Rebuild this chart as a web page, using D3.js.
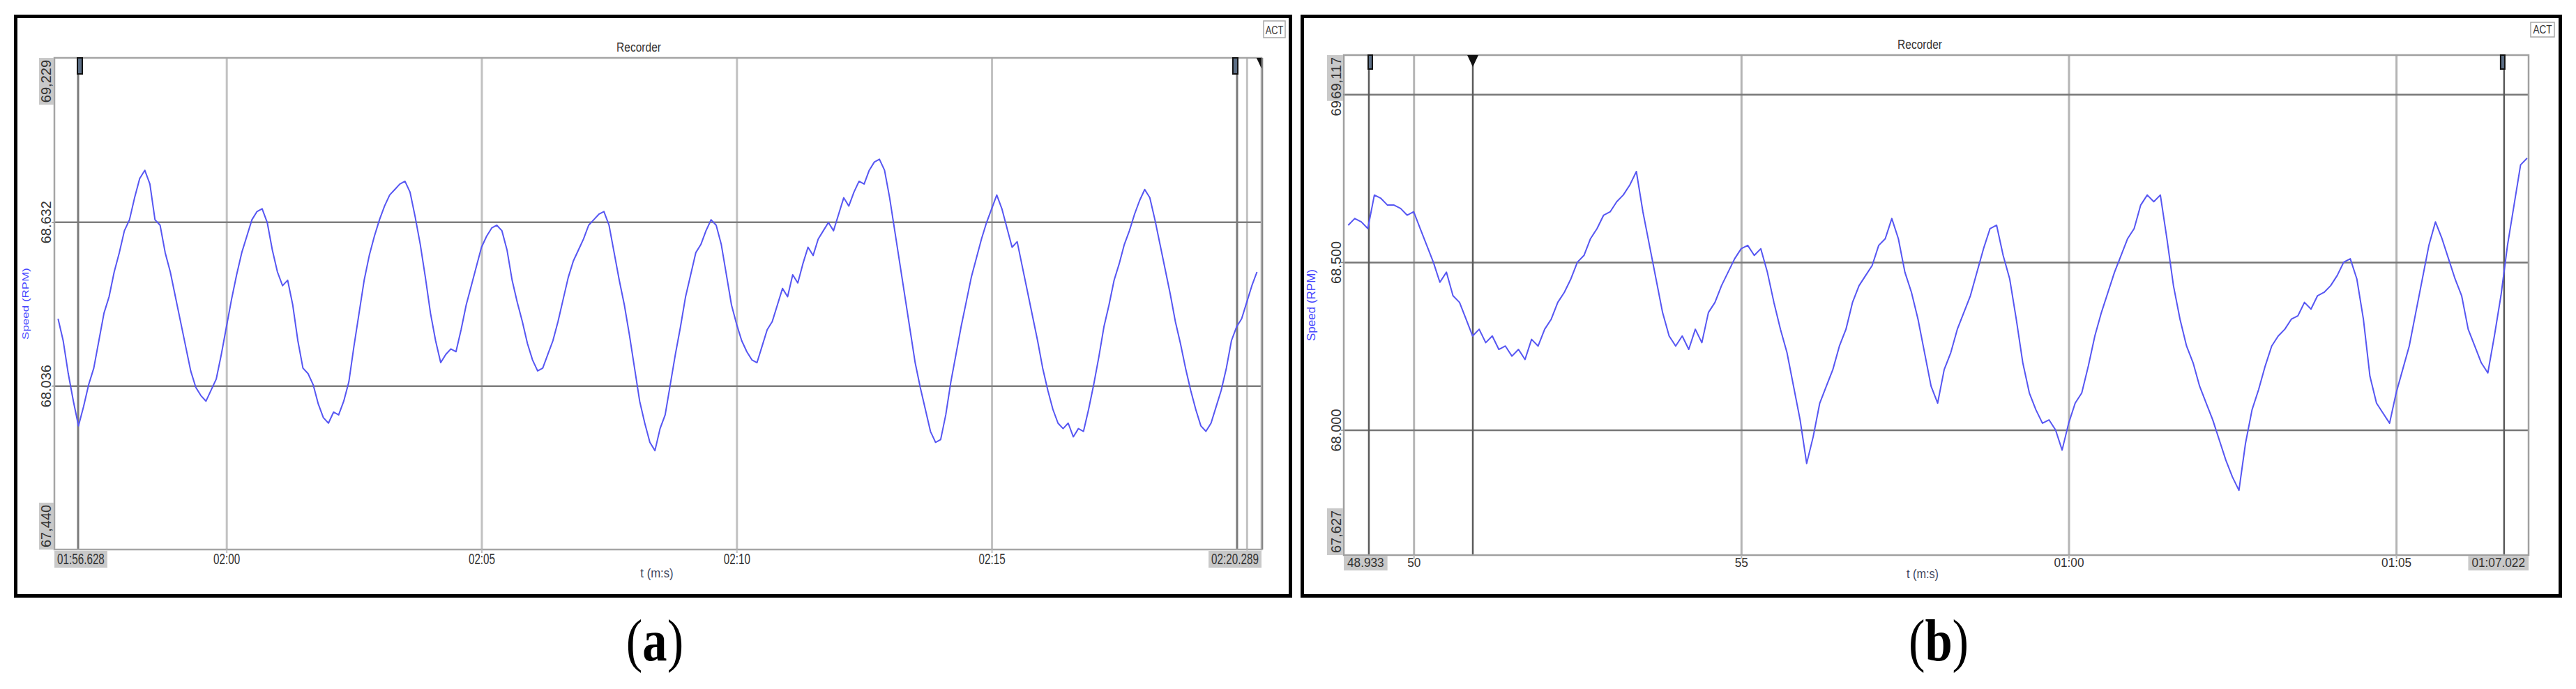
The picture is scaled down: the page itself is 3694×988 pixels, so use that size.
<!DOCTYPE html>
<html><head><meta charset="utf-8">
<script src="https://cdn.jsdelivr.net/npm/d3@7"></script>
<style>html,body{margin:0;padding:0;background:#fff;}svg{display:block;}</style>
</head><body>
<svg id="chart" width="3694" height="988"></svg>
<script>
// ---------------- DATA ----------------
// Panel (a): speed samples every 0.1 s starting at 116.7 s (01:56.7)
const timeStartA = 116.7, sampleStepA = 0.1;
const speedA = [
  68.28, 68.20, 68.08, 67.98, 67.89, 67.96, 68.04, 68.10, 68.20, 68.30,
  68.36, 68.45, 68.52, 68.60, 68.64, 68.72, 68.79, 68.82, 68.77, 68.64,
  68.62, 68.52, 68.45, 68.36, 68.27, 68.18, 68.09, 68.03, 68.00, 67.98,
  68.02, 68.06, 68.15, 68.25, 68.35, 68.44, 68.52, 68.58, 68.64, 68.67,
  68.68, 68.63, 68.53, 68.45, 68.40, 68.42, 68.33, 68.20, 68.10, 68.08,
  68.04, 67.97, 67.92, 67.90, 67.94, 67.93, 67.98, 68.05, 68.18, 68.30,
  68.42, 68.51, 68.58, 68.64, 68.69, 68.73, 68.75, 68.77, 68.78, 68.74,
  68.65, 68.55, 68.43, 68.30, 68.20, 68.12, 68.15, 68.17, 68.16, 68.24,
  68.33, 68.40, 68.47, 68.54, 68.58, 68.61, 68.62, 68.60, 68.53, 68.42,
  68.34, 68.27, 68.19, 68.13, 68.09, 68.10, 68.15, 68.20, 68.27, 68.35,
  68.43, 68.49, 68.53, 68.57, 68.62, 68.64, 68.66, 68.67, 68.62, 68.52,
  68.42, 68.33, 68.22, 68.10, 67.98, 67.90, 67.83, 67.80, 67.88, 67.93,
  68.04, 68.15, 68.25, 68.36, 68.44, 68.52, 68.55, 68.60, 68.64, 68.62,
  68.55, 68.44, 68.33, 68.26, 68.20, 68.16, 68.13, 68.12, 68.18, 68.24,
  68.27, 68.33, 68.39, 68.36, 68.44, 68.41, 68.48, 68.54, 68.51, 68.57,
  68.60, 68.63, 68.60, 68.66, 68.72, 68.69, 68.74, 68.78, 68.77, 68.82,
  68.85, 68.86, 68.82, 68.72, 68.60, 68.48, 68.36, 68.24, 68.12, 68.03,
  67.95, 67.87, 67.83, 67.84, 67.93, 68.05, 68.15, 68.25, 68.34, 68.43,
  68.50, 68.57, 68.63, 68.68, 68.73, 68.68, 68.61, 68.54, 68.56, 68.47,
  68.38, 68.29, 68.20, 68.10, 68.02, 67.95, 67.90, 67.88, 67.90, 67.85,
  67.88, 67.87, 67.95, 68.04, 68.14, 68.25, 68.33, 68.42, 68.48, 68.55,
  68.60, 68.66, 68.71, 68.75, 68.72, 68.64, 68.55, 68.46, 68.37, 68.27,
  68.19, 68.10, 68.02, 67.95, 67.89, 67.87, 67.90, 67.96, 68.02, 68.10,
  68.20, 68.25, 68.28, 68.34, 68.40, 68.45
];
const timeDomainA = [116.628, 140.289];
const speedDomainA = [67.440, 69.229];
const gridTimeA = [120, 125, 130, 135, 140];
const gridTimeLabelsA = ["02:00", "02:05", "02:10", "02:15", ""];
const gridSpeedA = [68.036, 68.632];
const gridSpeedLabelsA = ["68.036", "68.632"];
const endTimeLabelsA = ["01:56.628", "02:20.289"];
const endSpeedLabelsA = ["67,440", "69,229"];
const rectCursorsA = [117.093, 139.81];
const triCursorsA = [140.30];

// Panel (b): speed samples every 0.1 s starting at 49.0 s
const timeStartB = 49.0, sampleStepB = 0.1;
const speedB = [
  68.61, 68.63, 68.62, 68.60, 68.70, 68.69, 68.67, 68.67, 68.66, 68.64,
  68.65, 68.60, 68.55, 68.50, 68.44, 68.47, 68.40, 68.38, 68.33, 68.28,
  68.30, 68.26, 68.28, 68.24, 68.25, 68.22, 68.24, 68.21, 68.27, 68.25,
  68.30, 68.33, 68.38, 68.41, 68.45, 68.50, 68.52, 68.57, 68.60, 68.64,
  68.65, 68.68, 68.70, 68.73, 68.77, 68.65, 68.55, 68.45, 68.35, 68.28,
  68.25, 68.28, 68.24, 68.30, 68.26, 68.35, 68.38, 68.43, 68.47, 68.51,
  68.54, 68.55, 68.52, 68.54, 68.47, 68.38, 68.30, 68.23, 68.13, 68.03,
  67.90, 67.98, 68.08, 68.13, 68.18, 68.25, 68.30, 68.38, 68.43, 68.46,
  68.49, 68.55, 68.57, 68.63, 68.57, 68.47, 68.41, 68.33, 68.23, 68.13,
  68.08, 68.18, 68.23, 68.30, 68.35, 68.40, 68.47, 68.54, 68.60, 68.61,
  68.52, 68.45, 68.33, 68.20, 68.11, 68.06, 68.02, 68.03, 68.00, 67.94,
  68.02, 68.08, 68.11, 68.19, 68.28, 68.35, 68.41, 68.47, 68.52, 68.57,
  68.60, 68.67, 68.70, 68.68, 68.70, 68.57, 68.43, 68.33, 68.25, 68.20,
  68.13, 68.08, 68.03, 67.97, 67.91, 67.86, 67.82, 67.96, 68.06, 68.12,
  68.19, 68.25, 68.28, 68.30, 68.33, 68.34, 68.38, 68.36, 68.40, 68.41,
  68.43, 68.46, 68.50, 68.51, 68.45, 68.33, 68.16, 68.08, 68.05, 68.02,
  68.11, 68.18, 68.25, 68.35, 68.45, 68.55, 68.62, 68.57, 68.51, 68.45,
  68.40, 68.30, 68.25, 68.20, 68.17, 68.28, 68.40, 68.55, 68.67, 68.79,
  68.81
];
const timeDomainB = [48.933, 67.022];
const speedDomainB = [67.627, 69.117];
const gridTimeB = [50, 55, 60, 65];
const gridTimeLabelsB = ["50", "55", "01:00", "01:05"];
const gridSpeedB = [68.0, 68.5, 69.0];
const gridSpeedLabelsB = ["68.000", "68.500", "69.000"];
const endTimeLabelsB = ["48.933", "01:07.022"];
const endSpeedLabelsB = ["67,627", "69,117"];
const rectCursorsB = [49.316, 66.648];
const triCursorsB = [50.903];

const panelTitle = "Recorder";
const yTitle = "Speed (RPM)";
const xTitle = "t (m:s)";
const actLabel = "ACT";

// ---------------- DRAWING ----------------
const FONT = "'Liberation Sans', Arial, sans-serif";
const svg = d3.select("#chart");

function drawPanel(d, L) {
  const x = d3.scaleLinear().domain(d.timeDomain).range([L.left, L.right]);
  const y = d3.scaleLinear().domain(d.speedDomain).range([L.bottom, L.top]);
  const W = L.right - L.left, H = L.bottom - L.top;
  const root = svg.append("g");

  // outer frame
  root.append("rect").attr("x", L.frame[0]).attr("y", L.frame[1])
    .attr("width", L.frame[2]).attr("height", L.frame[3])
    .attr("fill", "#fff").attr("stroke", "#000").attr("stroke-width", 5);

  // title
  root.append("text")
    .attr("transform", `translate(${L.titleX},${L.titleY}) scale(${L.titleSx},1)`)
    .attr("text-anchor", "middle").attr("font-family", FONT).attr("font-size", L.titleFs)
    .attr("fill", "#333").text(panelTitle);

  // ACT box
  root.append("rect").attr("x", L.act[0]).attr("y", L.act[1]).attr("width", L.act[2]).attr("height", L.act[3])
    .attr("fill", "#fff").attr("stroke", "#a8a8a8").attr("stroke-width", 1.5);
  root.append("text")
    .attr("transform", `translate(${L.act[0] + L.act[2] / 2},${L.act[1] + L.act[3] - 5}) scale(${L.actSx},1)`)
    .attr("text-anchor", "middle").attr("font-family", FONT).attr("font-size", L.actFs)
    .attr("fill", "#333").text(actLabel);

  // vertical gridlines
  const vg = root.append("g").attr("transform", `translate(0,${L.bottom})`)
    .call(d3.axisBottom(x).tickValues(d.gridTime).tickSize(-H).tickFormat(""));
  vg.select(".domain").remove();
  vg.selectAll("line").attr("stroke", L.vgridColor).attr("stroke-width", L.vgridW);

  // horizontal gridlines
  const hg = root.append("g").attr("transform", `translate(${L.left},0)`)
    .call(d3.axisLeft(y).tickValues(d.gridSpeed).tickSize(-W).tickFormat(""));
  hg.select(".domain").remove();
  hg.selectAll("line").attr("stroke", L.hgridColor).attr("stroke-width", L.hgridW);

  // cursor lines
  root.selectAll(null).data(d.rectCursors.concat(d.triCursors)).enter().append("line")
    .attr("x1", t => x(t)).attr("x2", t => x(t)).attr("y1", L.top).attr("y2", L.bottom)
    .attr("stroke", L.cursorColor).attr("stroke-width", L.cursorW);

  // clip
  const clipId = "clip" + L.id;
  svg.append("clipPath").attr("id", clipId).append("rect")
    .attr("x", L.left).attr("y", L.top).attr("width", W).attr("height", H);

  // speed line
  const pts = d.speed.map((v, i) => [d.timeStart + i * d.step, v]);
  root.append("path").datum(pts)
    .attr("clip-path", `url(#${clipId})`)
    .attr("fill", "none").attr("stroke", "#5656f2").attr("stroke-width", 2)
    .attr("stroke-linejoin", "round")
    .attr("d", d3.line().x(p => x(p[0])).y(p => y(p[1])));

  // plot border
  root.append("rect").attr("x", L.left).attr("y", L.top).attr("width", W).attr("height", H)
    .attr("fill", "none").attr("stroke", L.borderColor).attr("stroke-width", 2.5);

  // cursor markers: rectangles
  d.rectCursors.forEach((t, i) => {
    const cx = x(t);
    const rx = i === 0 ? cx - 1 : cx - L.mkW + 1;
    root.append("rect").attr("x", rx).attr("y", L.top).attr("width", L.mkW).attr("height", L.mkH)
      .attr("fill", "#5d6f86").attr("stroke", "#111").attr("stroke-width", 2);
  });
  // cursor markers: triangles (clipped to plot)
  d.triCursors.forEach(t => {
    const cx = x(t);
    root.append("path").attr("clip-path", `url(#${clipId})`)
      .attr("d", `M${cx - 8},${L.top} L${cx + 8},${L.top} L${cx},${L.top + 17} Z`)
      .attr("fill", "#111");
  });

  // x tick labels
  const xa = root.append("g").attr("transform", `translate(0,${L.bottom})`)
    .call(d3.axisBottom(x).tickValues(d.gridTime).tickSize(5).tickFormat((v, i) => d.gridTimeLabels[i]));
  xa.select(".domain").remove();
  xa.attr("font-family", FONT).attr("font-size", L.xlabFs);
  xa.selectAll("line").attr("stroke", L.vgridColor).attr("stroke-width", 2);
  xa.selectAll("text").attr("y", 0).attr("dy", null).attr("fill", "#333")
    .attr("transform", `translate(0,${L.xlabBase - L.bottom}) scale(${L.xlabSx},1)`);

  // y tick labels (rotated)
  const ya = root.append("g").attr("transform", `translate(${L.left},0)`)
    .call(d3.axisLeft(y).tickValues(d.gridSpeed).tickSize(4).tickFormat((v, i) => d.gridSpeedLabels[i]));
  ya.select(".domain").remove();
  ya.attr("font-family", FONT).attr("font-size", L.ylabFs);
  ya.selectAll("line").attr("stroke", "#888").attr("stroke-width", 1.5);
  ya.selectAll("text").attr("x", null).attr("dy", null).attr("fill", "#333")
    .attr("text-anchor", "middle")
    .attr("transform", `translate(${L.ylabOff},0) rotate(-90)`);

  // boxed end labels on the time axis
  d.endTimeLabels.forEach((lab, i) => {
    const g = root.append("g");
    const r = g.append("rect");
    const t = g.append("text").attr("font-family", FONT).attr("font-size", L.xlabFs).attr("fill", "#333").text(lab);
    const len = t.node().getComputedTextLength() * L.xlabSx;
    const bw = len + 2 * L.xPad;
    const bx = i === 0 ? L.left : L.right - bw;
    r.attr("x", bx).attr("y", L.xbox[0]).attr("width", bw).attr("height", L.xbox[1] - L.xbox[0]).attr("fill", "#c9c9c9");
    t.attr("transform", `translate(${bx + L.xPad},${L.xlabBase}) scale(${L.xlabSx},1)`);
  });

  // boxed end labels on the speed axis (index 0 = bottom, 1 = top)
  d.endSpeedLabels.forEach((lab, i) => {
    const g = root.append("g");
    const r = g.append("rect");
    const t = g.append("text").attr("font-family", FONT).attr("font-size", L.ylabFs).attr("fill", "#333").text(lab);
    const len = t.node().getComputedTextLength();
    const bh = len + 2 * L.yPad;
    const by = i === 1 ? L.top : L.bottom - bh;
    r.attr("x", L.ybox[0]).attr("y", by).attr("width", L.ybox[1] - L.ybox[0]).attr("height", bh).attr("fill", "#c9c9c9");
    t.attr("text-anchor", i === 1 ? "end" : "start")
      .attr("transform", `translate(${L.left + L.ylabOff},${i === 1 ? L.top + L.yPad : L.bottom - L.yPad}) rotate(-90)`);
  });

  // axis titles
  root.append("text")
    .attr("transform", `translate(${L.yTitleX},${(L.top + L.bottom) / 2}) scale(${L.yTitleSx},1) rotate(-90)`)
    .attr("text-anchor", "middle").attr("font-family", FONT).attr("font-size", L.yTitleFs)
    .attr("fill", "#4646ff").text(yTitle);
  root.append("text")
    .attr("transform", `translate(${L.xTitleX},${L.xTitleY}) scale(${L.xTitleSx},1)`)
    .attr("text-anchor", "middle").attr("font-family", FONT).attr("font-size", L.xTitleFs)
    .attr("fill", "#3f4660").text(xTitle);

  // caption
  const cap = root.append("text")
    .attr("transform", `translate(${L.capX},${L.capY}) scale(0.84,1)`)
    .attr("text-anchor", "middle").attr("font-family", "'Liberation Serif', 'Times New Roman', serif")
    .attr("font-size", 84).attr("fill", "#000");
  cap.append("tspan").text("(");
  cap.append("tspan").attr("font-weight", "bold").text(L.capLetter);
  cap.append("tspan").text(")");
}

drawPanel(
  { speed: speedA, timeStart: timeStartA, step: sampleStepA, timeDomain: timeDomainA, speedDomain: speedDomainA,
    gridTime: gridTimeA, gridTimeLabels: gridTimeLabelsA, gridSpeed: gridSpeedA, gridSpeedLabels: gridSpeedLabelsA,
    endTimeLabels: endTimeLabelsA, endSpeedLabels: endSpeedLabelsA, rectCursors: rectCursorsA, triCursors: triCursorsA },
  { id: "a", frame: [22.5, 23.5, 1828, 831], left: 78, right: 1809, top: 83, bottom: 788,
    titleX: 916, titleY: 74, titleFs: 18.5, titleSx: 0.84,
    act: [1812, 30, 31, 24], actFs: 16, actSx: 0.8,
    vgridColor: "#c2c2c2", vgridW: 3, hgridColor: "#7e7e7e", hgridW: 2.5,
    cursorColor: "#7a7a7a", cursorW: 3, borderColor: "#a5a5a5",
    mkW: 7, mkH: 23,
    xlabFs: 21.5, xlabSx: 0.71, xlabBase: 809, xbox: [790, 814], xPad: 4,
    ylabFs: 20, ylabOff: -5, ybox: [56, 77], yPad: 3,
    yTitleX: 41, yTitleFs: 17, yTitleSx: 0.72,
    xTitleX: 942, xTitleY: 828, xTitleFs: 19, xTitleSx: 0.88,
    capX: 939, capY: 947, capLetter: "a" }
);

drawPanel(
  { speed: speedB, timeStart: timeStartB, step: sampleStepB, timeDomain: timeDomainB, speedDomain: speedDomainB,
    gridTime: gridTimeB, gridTimeLabels: gridTimeLabelsB, gridSpeed: gridSpeedB, gridSpeedLabels: gridSpeedLabelsB,
    endTimeLabels: endTimeLabelsB, endSpeedLabels: endSpeedLabelsB, rectCursors: rectCursorsB, triCursors: triCursorsB },
  { id: "b", frame: [1867.5, 23.5, 1804, 831], left: 1927, right: 3626, top: 79, bottom: 796,
    titleX: 2753, titleY: 70, titleFs: 18.5, titleSx: 0.84,
    act: [3629, 32, 34, 21], actFs: 16, actSx: 0.85,
    vgridColor: "#b5b5b5", vgridW: 3, hgridColor: "#777", hgridW: 2.5,
    cursorColor: "#5a5a5a", cursorW: 2.5, borderColor: "#a0a0a0",
    mkW: 6, mkH: 20,
    xlabFs: 18.5, xlabSx: 0.93, xlabBase: 813, xbox: [797, 818], xPad: 5,
    ylabFs: 20, ylabOff: -4, ybox: [1903, 1926], yPad: 3,
    yTitleX: 1886, yTitleFs: 17, yTitleSx: 1,
    xTitleX: 2757, xTitleY: 829, xTitleFs: 18, xTitleSx: 0.9,
    capX: 2780, capY: 947, capLetter: "b" }
);
</script>
</body></html>
